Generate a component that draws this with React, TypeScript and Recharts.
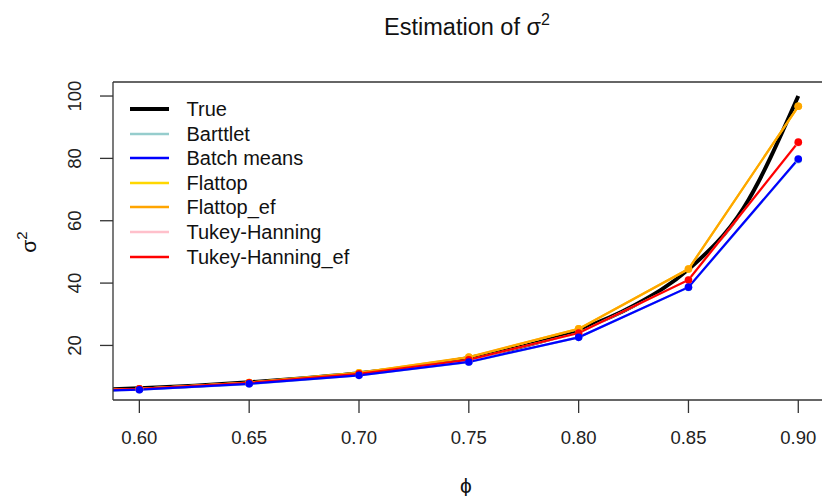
import React from 'react';
import { LineChart, Line, XAxis, YAxis, Legend } from 'recharts';

const phiValues = [0.55, 0.6, 0.65, 0.7, 0.75, 0.8, 0.85, 0.9];
const truePhi = [0.55, 0.6, 0.625, 0.65, 0.675, 0.7, 0.725, 0.75, 0.775, 0.8, 0.825, 0.85, 0.875, 0.9];
const trueValues = [4.94, 6.25, 7.1, 8.16, 9.5, 11.1, 13.2, 16.0, 19.8, 25.0, 32.7, 44.4, 64.0, 100.0];
const barttletValues = [4.9, 5.8, 7.6, 10.4, 14.6, 22.6, 38.6, 79.6];
const batchMeansValues = [4.9, 5.8, 7.7, 10.4, 14.7, 22.6, 38.7, 79.8];
const flattopValues = [5.0, 6.1, 8.1, 11.2, 16.2, 25.3, 44.5, 96.7];
const flattopEfValues = [5.0, 6.1, 8.1, 11.2, 16.3, 25.3, 44.5, 96.7];
const tukeyValues = [5.1, 6.1, 8.0, 10.9, 15.3, 24.0, 41.0, 85.0];
const tukeyEfValues = [5.1, 6.1, 8.0, 10.9, 15.4, 24.0, 41.0, 85.2];
const xTicks = [0.6, 0.65, 0.7, 0.75, 0.8, 0.85, 0.9];
const yTicks = [20, 40, 60, 80, 100];

const toData = (xs: number[], ys: number[]) => xs.map((p, i) => ({ phi: p, v: ys[i] }));

const series = [
  { name: 'True', color: '#000000', width: 4, data: toData(truePhi, trueValues), dots: false, curve: 'monotone' },
  { name: 'Barttlet', color: '#96CDCD', width: 2.2, data: toData(phiValues, barttletValues), dots: true, curve: 'linear' },
  { name: 'Batch means', color: '#0000FF', width: 2.2, data: toData(phiValues, batchMeansValues), dots: true, curve: 'linear' },
  { name: 'Flattop', color: '#FFD700', width: 2.2, data: toData(phiValues, flattopValues), dots: true, curve: 'linear' },
  { name: 'Flattop_ef', color: '#FFA500', width: 2.2, data: toData(phiValues, flattopEfValues), dots: true, curve: 'linear' },
  { name: 'Tukey-Hanning', color: '#FFC0CB', width: 2.2, data: toData(phiValues, tukeyValues), dots: true, curve: 'linear' },
  { name: 'Tukey-Hanning_ef', color: '#FF0000', width: 2.2, data: toData(phiValues, tukeyEfValues), dots: true, curve: 'linear' },
];

const drawOrder = ['True', 'Barttlet', 'Flattop', 'Tukey-Hanning', 'Flattop_ef', 'Tukey-Hanning_ef', 'Batch means'];

const FONT = '"Liberation Sans", Arial, sans-serif';
const AXIS = '#333333';
const X_DOMAIN: [number, number] = [0.588, 0.9108];
const Y_DOMAIN: [number, number] = [2.5, 104.5];

const XTick = (props: any) => {
  const { x, payload } = props;
  return (
    <text x={x} y={444} textAnchor="middle" fontSize={18.5} fontFamily={FONT} fill="#222">
      {Number(payload.value).toFixed(2)}
    </text>
  );
};

const YTick = (props: any) => {
  const { y, payload } = props;
  const cx = 75;
  return (
    <text x={cx} y={y} dy="0.35em" textAnchor="middle" fontSize={18.5} fontFamily={FONT} fill="#222"
      transform={`rotate(-90 ${cx} ${y})`}>
      {payload.value}
    </text>
  );
};

const LegendContent = () => (
  <div style={{ fontFamily: FONT, fontSize: 20, color: '#111' }}>
    {series.map((s) => (
      <div key={s.name} style={{ height: 24.6, display: 'flex', alignItems: 'center' }}>
        <svg width={39} height={6} style={{ marginRight: 17.5, display: 'block' }}>
          <line x1={0} y1={3} x2={39} y2={3} stroke={s.color} strokeWidth={s.name === 'True' ? 4 : 2.5} />
        </svg>
        <span style={{ lineHeight: '20px', whiteSpace: 'nowrap' }}>{s.name}</span>
      </div>
    ))}
  </div>
);

export default function App() {
  return (
    <div style={{ position: 'absolute', left: 0, top: 0, width: 822, height: 496, background: '#fff' }}>
      <LineChart width={822} height={496} margin={{ top: 62, right: 0, bottom: 36, left: 53 }}>
        <XAxis
          dataKey="phi"
          type="number"
          domain={X_DOMAIN}
          allowDataOverflow
          ticks={xTicks}
          tick={XTick}
          tickSize={13}
          height={60}
          axisLine={{ stroke: AXIS, strokeWidth: 1.3 }}
          tickLine={{ stroke: AXIS, strokeWidth: 1.3 }}
          interval={0}
        />
        <XAxis
          xAxisId="top"
          orientation="top"
          dataKey="phi"
          type="number"
          domain={X_DOMAIN}
          allowDataOverflow
          tick={false}
          tickLine={false}
          height={20}
          axisLine={{ stroke: AXIS, strokeWidth: 1.3 }}
        />
        <YAxis
          type="number"
          domain={Y_DOMAIN}
          allowDataOverflow
          ticks={yTicks}
          tick={YTick}
          tickSize={13}
          width={60}
          axisLine={{ stroke: AXIS, strokeWidth: 1.3 }}
          tickLine={{ stroke: AXIS, strokeWidth: 1.3 }}
          interval={0}
        />
        <Legend
          layout="vertical"
          align="center"
          verticalAlign="middle"
          content={<LegendContent />}
          wrapperStyle={{ position: 'absolute', left: 130, top: 96.7, width: 260, height: 175 }}
        />
        {drawOrder.map((n) => {
          const s = series.find((q) => q.name === n)!;
          return (
            <Line
              key={s.name}
              name={s.name}
              data={s.data}
              dataKey="v"
              type={s.curve as any}
              stroke={s.color}
              strokeWidth={s.width}
              dot={s.dots ? { r: 3.8, fill: s.color, stroke: s.color, strokeWidth: 0 } : false}
              activeDot={false}
              isAnimationActive={false}
              legendType="line"
            />
          );
        })}
        <text x={467} y={35} textAnchor="middle" fontSize={23.5} fontFamily={FONT} fill="#111">
          Estimation of σ<tspan dy={-10} fontSize={16}>2</tspan>
        </text>
        <text x={466} y={493} textAnchor="middle" fontSize={21} fontFamily={FONT} fill="#111">ϕ</text>
        <text x={36} y={242} textAnchor="middle" fontSize={21} fontFamily={FONT} fill="#111"
          transform="rotate(-90 36 242)">
          σ<tspan dy={-9} fontSize={15}>2</tspan>
        </text>
      </LineChart>
    </div>
  );
}
